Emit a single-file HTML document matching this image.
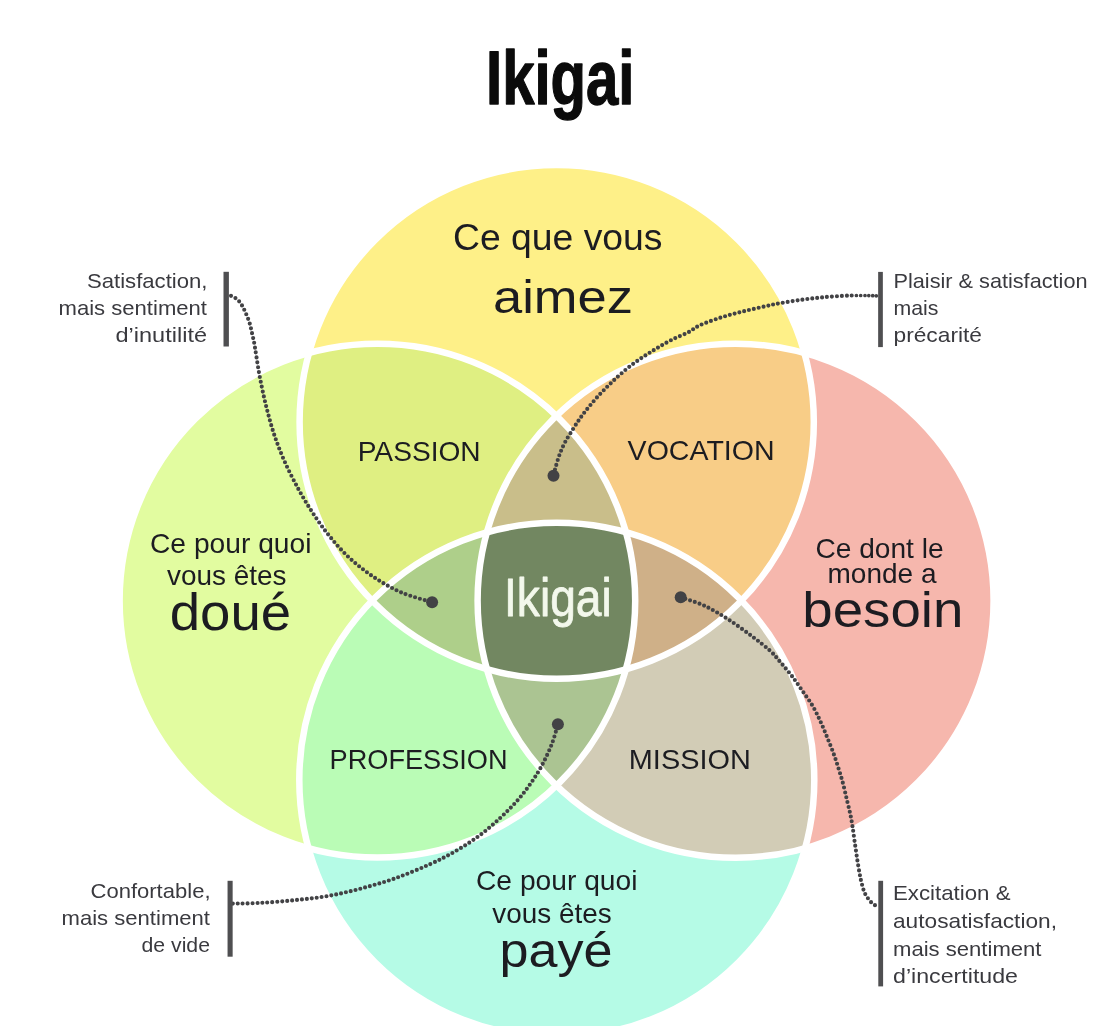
<!DOCTYPE html>
<html lang="fr"><head><meta charset="utf-8"><title>Ikigai</title>
<style>html,body{margin:0;padding:0;background:#fff;width:1098px;height:1026px;overflow:hidden;}#stage{position:relative;width:1098px;height:1026px;overflow:hidden;background:#fff;}svg{display:block;position:absolute;left:0;top:0;font-family:"Liberation Sans",sans-serif;filter:blur(0.45px);}</style>
</head><body><div id="stage">
<svg width="1098" height="1046" viewBox="0 0 1098 1046">
<defs>
<clipPath id="ct"><ellipse cx="556.7" cy="421.9" rx="257.1" ry="256.9"/></clipPath>
<clipPath id="cl"><ellipse cx="377.4" cy="600.7" rx="257.8" ry="256.9"/></clipPath>
<clipPath id="cr"><ellipse cx="735.6" cy="600.7" rx="258.0" ry="257.0"/></clipPath>
<clipPath id="cb"><ellipse cx="556.8" cy="780.0" rx="257.5" ry="257.3"/></clipPath>
</defs>
<rect width="1098" height="1046" fill="#ffffff"/>
<ellipse cx="556.7" cy="421.9" rx="257.1" ry="256.9" fill="#fef088"/>
<ellipse cx="377.4" cy="600.7" rx="257.8" ry="256.9" fill="#e2fca0"/>
<ellipse cx="735.6" cy="600.7" rx="258.0" ry="257.0" fill="#f6b7ad"/>
<ellipse cx="556.8" cy="780.0" rx="257.5" ry="257.3" fill="#b5fbe6"/>
<g clip-path="url(#ct)"><ellipse cx="377.4" cy="600.7" rx="257.8" ry="256.9" fill="#dfef82"/></g>
<g clip-path="url(#ct)"><ellipse cx="735.6" cy="600.7" rx="258.0" ry="257.0" fill="#f8cd87"/></g>
<g clip-path="url(#cb)"><ellipse cx="377.4" cy="600.7" rx="257.8" ry="256.9" fill="#bafcb6"/></g>
<g clip-path="url(#cb)"><ellipse cx="735.6" cy="600.7" rx="258.0" ry="257.0" fill="#d2ccb6"/></g>
<g clip-path="url(#cl)"><g clip-path="url(#cr)"><ellipse cx="556.7" cy="421.9" rx="257.1" ry="256.9" fill="#c9be8a"/></g></g>
<g clip-path="url(#ct)"><g clip-path="url(#cb)"><ellipse cx="377.4" cy="600.7" rx="257.8" ry="256.9" fill="#aecf8a"/></g></g>
<g clip-path="url(#ct)"><g clip-path="url(#cb)"><ellipse cx="735.6" cy="600.7" rx="258.0" ry="257.0" fill="#cfb088"/></g></g>
<g clip-path="url(#cl)"><g clip-path="url(#cr)"><ellipse cx="556.8" cy="780.0" rx="257.5" ry="257.3" fill="#abc492"/></g></g>
<g clip-path="url(#ct)"><g clip-path="url(#cl)"><g clip-path="url(#cr)"><ellipse cx="556.8" cy="780.0" rx="257.5" ry="257.3" fill="#728761"/></g></g></g>
<ellipse cx="556.7" cy="421.9" rx="257.1" ry="256.9" fill="none" stroke="#ffffff" stroke-width="6.5"/>
<ellipse cx="377.4" cy="600.7" rx="257.8" ry="256.9" fill="none" stroke="#ffffff" stroke-width="6.5"/>
<ellipse cx="735.6" cy="600.7" rx="258.0" ry="257.0" fill="none" stroke="#ffffff" stroke-width="6.5"/>
<ellipse cx="556.8" cy="780.0" rx="257.5" ry="257.3" fill="none" stroke="#ffffff" stroke-width="6.5"/>
<path d="M231.0 295.8 C231.8 296.2 234.5 297.4 236.0 298.5 C237.5 299.6 238.9 301.0 240.0 302.4 C241.1 303.8 241.9 305.2 242.7 306.7 C243.5 308.2 244.3 309.8 245.0 311.4 C245.7 312.9 246.3 314.4 247.0 316.0 C247.7 317.6 248.3 319.4 248.9 321.1 C249.5 322.8 250.1 324.5 250.5 326.2 C250.9 327.9 251.2 329.6 251.6 331.3 C252.0 333.1 252.4 334.9 252.8 336.7 C253.2 338.4 253.4 338.7 254.0 341.8 C254.6 344.9 255.2 349.1 256.2 355.3 C257.2 361.5 258.5 370.6 260.2 379.1 C261.9 387.6 263.9 397.3 266.2 406.4 C268.5 415.5 270.9 424.6 273.9 433.7 C276.9 442.8 280.4 451.9 284.4 461.0 C288.4 470.1 293.4 479.8 298.0 488.3 C302.6 496.8 307.1 504.3 312.3 512.2 C317.5 520.2 323.1 528.3 329.4 536.0 C335.6 543.7 342.4 551.4 349.8 558.2 C357.2 565.0 365.2 571.3 373.7 577.0 C382.2 582.7 391.3 588.1 401.0 592.3 C410.7 596.5 426.9 600.6 432.1 602.3" fill="none" stroke="#424245" stroke-width="4.15" stroke-linecap="round" stroke-dasharray="0 4.95"/>
<path d="M851.7 295.5 C850.7 295.5 850.4 295.4 845.8 295.7 C841.2 296.0 831.2 296.5 823.9 297.2 C816.6 297.9 809.4 298.7 802.0 299.7 C794.6 300.7 785.5 302.2 779.4 303.3 C773.3 304.4 771.5 304.9 765.6 306.2 C759.7 307.5 751.0 309.5 743.7 311.3 C736.4 313.1 729.2 314.9 721.9 317.2 C714.6 319.5 705.6 322.7 700.0 325.2 C694.4 327.7 692.8 329.9 688.2 332.3 C683.6 334.7 677.5 336.9 672.6 339.4 C667.7 341.9 663.0 344.6 658.6 347.2 C654.2 349.8 650.3 352.3 646.1 355.0 C641.9 357.7 637.8 360.4 633.6 363.5 C629.4 366.6 625.0 370.3 621.1 373.7 C617.2 377.1 613.7 380.4 610.2 383.8 C606.7 387.2 603.5 390.4 600.1 394.0 C596.7 397.6 593.0 401.9 589.9 405.7 C586.8 409.5 584.0 412.8 581.3 416.6 C578.6 420.4 576.2 424.0 573.5 428.3 C570.8 432.6 567.3 437.9 565.0 442.3 C562.7 446.7 561.1 450.6 559.5 454.8 C557.9 459.0 556.6 463.8 555.6 467.3 C554.6 470.8 553.9 474.3 553.5 475.7" fill="none" stroke="#424245" stroke-width="4.15" stroke-linecap="round" stroke-dasharray="0 4.95"/>
<path d="M232.8 903.6 C237.4 903.5 250.2 903.5 260.4 902.9 C270.6 902.3 282.9 901.4 294.1 900.2 C305.3 899.1 316.6 898.0 327.8 896.0 C339.0 894.0 350.3 891.4 361.5 888.4 C372.7 885.4 384.0 882.2 395.2 878.3 C406.4 874.3 418.8 869.2 428.9 864.7 C439.0 860.2 447.4 855.9 455.8 851.0 C464.2 846.1 472.1 841.0 479.4 835.6 C486.7 830.2 493.4 824.2 499.6 818.5 C505.8 812.8 511.4 807.2 516.5 801.5 C521.6 795.8 525.8 790.4 530.0 784.4 C534.2 778.4 538.1 772.5 541.8 765.7 C545.4 758.9 549.2 750.7 551.9 743.8 C554.6 736.9 556.9 727.5 557.9 724.3" fill="none" stroke="#424245" stroke-width="4.15" stroke-linecap="round" stroke-dasharray="0 4.95"/>
<path d="M680.7 597.3 C684.7 598.7 696.7 602.1 704.6 605.8 C712.5 609.5 720.5 614.4 728.4 619.5 C736.3 624.6 745.4 631.3 752.3 636.5 C759.2 641.7 765.3 646.4 770.0 650.7 C774.7 655.0 777.1 658.4 780.7 662.5 C784.3 666.6 787.8 670.8 791.4 675.4 C795.0 680.0 798.5 685.2 802.1 690.4 C805.7 695.6 809.9 701.2 812.9 706.4 C815.9 711.6 818.1 716.4 820.4 721.4 C822.7 726.4 824.7 731.2 826.8 736.4 C828.9 741.6 831.2 747.1 833.2 752.5 C835.2 757.9 836.9 763.2 838.6 768.6 C840.3 774.0 841.9 779.2 843.3 784.6 C844.7 790.0 845.9 795.7 847.1 800.7 C848.3 805.7 849.5 810.3 850.4 814.6 C851.3 818.9 851.8 821.9 852.5 826.4 C853.2 830.9 853.9 836.1 854.6 841.4 C855.4 846.6 856.2 852.5 857.0 857.9 C857.8 863.2 858.8 869.2 859.6 873.5 C860.4 877.8 860.9 880.3 861.8 883.7 C862.7 887.1 863.6 890.8 865.1 893.8 C866.6 896.8 869.2 900.1 870.9 902.0 C872.6 903.9 874.0 904.6 875.2 905.3 C876.4 906.0 877.8 906.1 878.3 906.3" fill="none" stroke="#424245" stroke-width="4.15" stroke-linecap="round" stroke-dasharray="0 4.95"/>
<path d="M856.4 295.5h0 M860.7 295.5h0 M865.0 295.5h0 M868.8 295.6h0 M872.7 295.7h0 M876.3 295.8h0" fill="none" stroke="#424245" stroke-width="3.7" stroke-linecap="round"/>
<circle cx="432.1" cy="602.3" r="6" fill="#424245"/>
<circle cx="553.5" cy="475.7" r="6" fill="#424245"/>
<circle cx="557.9" cy="724.3" r="6" fill="#424245"/>
<circle cx="680.7" cy="597.3" r="6" fill="#424245"/>
<rect x="223.50" y="271.8" width="5.4" height="74.7" fill="#4f4f51"/>
<rect x="878.15" y="271.9" width="4.7" height="75.2" fill="#4f4f51"/>
<rect x="227.55" y="880.8" width="5.1" height="75.9" fill="#4f4f51"/>
<rect x="878.30" y="880.8" width="4.8" height="105.6" fill="#4f4f51"/>
<text x="486.0" y="104.0" font-size="76" fill="#0b0b0b" font-weight="bold" stroke="#0b0b0b" stroke-width="1.3" stroke-linejoin="round" textLength="148.5" lengthAdjust="spacingAndGlyphs">Ikigai</text>
<text x="453.0" y="249.5" font-size="36.3" fill="#1c1c21" font-weight="normal" textLength="209.5" lengthAdjust="spacingAndGlyphs">Ce que vous</text>
<text x="493.0" y="313.2" font-size="47" fill="#1c1c21" font-weight="normal" textLength="140.0" lengthAdjust="spacingAndGlyphs">aimez</text>
<text x="150.0" y="553.0" font-size="28" fill="#1c1c21" font-weight="normal" textLength="161.5" lengthAdjust="spacingAndGlyphs">Ce pour quoi</text>
<text x="167.0" y="585.0" font-size="28" fill="#1c1c21" font-weight="normal" textLength="119.5" lengthAdjust="spacingAndGlyphs">vous êtes</text>
<text x="169.7" y="629.7" font-size="52" fill="#1c1c21" font-weight="normal" textLength="121.5" lengthAdjust="spacingAndGlyphs">doué</text>
<text x="815.5" y="558.3" font-size="28" fill="#1c1c21" font-weight="normal" textLength="128.0" lengthAdjust="spacingAndGlyphs">Ce dont le</text>
<text x="827.5" y="582.8" font-size="28" fill="#1c1c21" font-weight="normal" textLength="109.0" lengthAdjust="spacingAndGlyphs">monde a</text>
<text x="802.3" y="626.8" font-size="49.3" fill="#1c1c21" font-weight="normal" textLength="161.0" lengthAdjust="spacingAndGlyphs">besoin</text>
<text x="476.0" y="890.3" font-size="28" fill="#1c1c21" font-weight="normal" textLength="161.5" lengthAdjust="spacingAndGlyphs">Ce pour quoi</text>
<text x="492.3" y="922.7" font-size="28" fill="#1c1c21" font-weight="normal" textLength="119.5" lengthAdjust="spacingAndGlyphs">vous êtes</text>
<text x="499.6" y="967.3" font-size="48.3" fill="#1c1c21" font-weight="normal" textLength="113.0" lengthAdjust="spacingAndGlyphs">payé</text>
<text x="357.7" y="460.7" font-size="27.8" fill="#1c1c21" font-weight="normal" textLength="123.0" lengthAdjust="spacingAndGlyphs">PASSION</text>
<text x="627.6" y="459.9" font-size="27.8" fill="#1c1c21" font-weight="normal" textLength="147.0" lengthAdjust="spacingAndGlyphs">VOCATION</text>
<text x="329.6" y="768.9" font-size="27.8" fill="#1c1c21" font-weight="normal" textLength="178.0" lengthAdjust="spacingAndGlyphs">PROFESSION</text>
<text x="628.8" y="768.9" font-size="27.8" fill="#1c1c21" font-weight="normal" textLength="122.0" lengthAdjust="spacingAndGlyphs">MISSION</text>
<text x="504.0" y="616.3" font-size="54" fill="#f3f8ec" font-weight="normal" stroke="#f3f8ec" stroke-width="0.8" stroke-linejoin="round" textLength="107.7" lengthAdjust="spacingAndGlyphs">Ikigai</text>
<text x="87.0" y="288.4" font-size="20.8" fill="#3a3a3f" font-weight="normal" textLength="120.5" lengthAdjust="spacingAndGlyphs">Satisfaction,</text>
<text x="58.5" y="315.2" font-size="20.8" fill="#3a3a3f" font-weight="normal" textLength="148.5" lengthAdjust="spacingAndGlyphs">mais sentiment</text>
<text x="115.5" y="342.0" font-size="20.8" fill="#3a3a3f" font-weight="normal" textLength="91.5" lengthAdjust="spacingAndGlyphs">d’inutilité</text>
<text x="893.5" y="288.2" font-size="20.8" fill="#3a3a3f" font-weight="normal" textLength="194.0" lengthAdjust="spacingAndGlyphs">Plaisir &amp; satisfaction</text>
<text x="893.5" y="315.2" font-size="20.8" fill="#3a3a3f" font-weight="normal" textLength="45.0" lengthAdjust="spacingAndGlyphs">mais</text>
<text x="893.5" y="342.3" font-size="20.8" fill="#3a3a3f" font-weight="normal" textLength="88.5" lengthAdjust="spacingAndGlyphs">précarité</text>
<text x="90.5" y="898.2" font-size="20.8" fill="#3a3a3f" font-weight="normal" textLength="120.0" lengthAdjust="spacingAndGlyphs">Confortable,</text>
<text x="61.5" y="925.0" font-size="20.8" fill="#3a3a3f" font-weight="normal" textLength="148.5" lengthAdjust="spacingAndGlyphs">mais sentiment</text>
<text x="141.5" y="952.1" font-size="20.8" fill="#3a3a3f" font-weight="normal" textLength="68.5" lengthAdjust="spacingAndGlyphs">de vide</text>
<text x="893.0" y="900.4" font-size="20.8" fill="#3a3a3f" font-weight="normal" textLength="117.5" lengthAdjust="spacingAndGlyphs">Excitation &amp;</text>
<text x="893.0" y="928.0" font-size="20.8" fill="#3a3a3f" font-weight="normal" textLength="164.0" lengthAdjust="spacingAndGlyphs">autosatisfaction,</text>
<text x="893.0" y="955.6" font-size="20.8" fill="#3a3a3f" font-weight="normal" textLength="148.5" lengthAdjust="spacingAndGlyphs">mais sentiment</text>
<text x="893.0" y="983.3" font-size="20.8" fill="#3a3a3f" font-weight="normal" textLength="125.0" lengthAdjust="spacingAndGlyphs">d’incertitude</text>
</svg></div></body></html>
